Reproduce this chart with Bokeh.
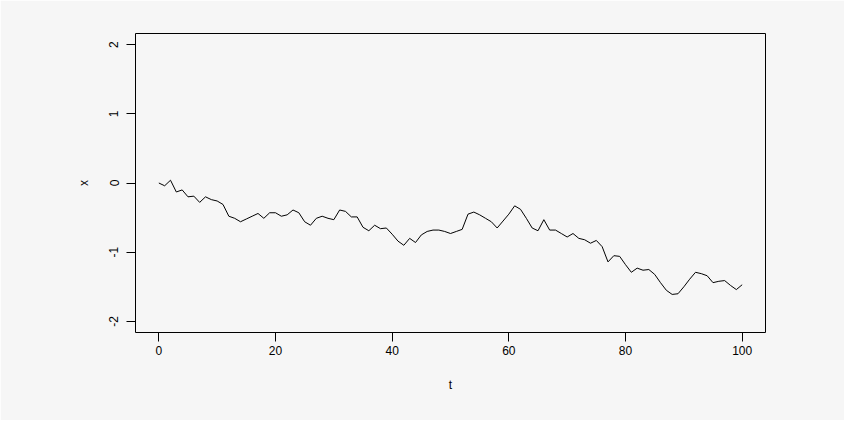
from bokeh.plotting import figure
from bokeh.models import Range1d, FixedTicker
from bokeh.embed import file_html
from bokeh.resources import INLINE

t = list(range(0, 101))
x = [0.00, -0.04, 0.04, -0.13, -0.10, -0.20, -0.19, -0.28, -0.20, -0.24,
     -0.26, -0.31, -0.48, -0.51, -0.56, -0.52, -0.48, -0.44, -0.51, -0.43,
     -0.43, -0.48, -0.46, -0.39, -0.43, -0.56, -0.61, -0.51, -0.48, -0.51,
     -0.53, -0.39, -0.41, -0.49, -0.49, -0.64, -0.69, -0.61, -0.66, -0.65,
     -0.74, -0.84, -0.90, -0.80, -0.86, -0.75, -0.70, -0.68, -0.68, -0.70,
     -0.73, -0.70, -0.67, -0.45, -0.42, -0.46, -0.51, -0.56, -0.65, -0.55,
     -0.45, -0.33, -0.38, -0.51, -0.65, -0.69, -0.53, -0.68, -0.68, -0.73,
     -0.78, -0.73, -0.80, -0.82, -0.87, -0.83, -0.92, -1.14, -1.05, -1.06,
     -1.18, -1.29, -1.23, -1.26, -1.25, -1.32, -1.44, -1.55, -1.61, -1.60,
     -1.50, -1.39, -1.29, -1.31, -1.34, -1.44, -1.42, -1.41, -1.48, -1.54,
     -1.47]
x_ticks = [0, 20, 40, 60, 80, 100]
y_ticks = [-2, -1, 0, 1, 2]

BG = "#F6F6F6"
FONT = "Liberation Sans"

p = figure(width=844, height=420, output_backend="svg", toolbar_location=None,
           x_range=Range1d(-4, 104), y_range=Range1d(-2.16, 2.16),
           min_border_left=135, min_border_right=79,
           min_border_top=33, min_border_bottom=88)
p.background_fill_color = BG
p.border_fill_color = BG
p.outline_line_color = "black"
p.outline_line_width = 1
p.xgrid.visible = False
p.ygrid.visible = False

p.line(t, x, line_color="black", line_width=1)

p.xaxis.ticker = FixedTicker(ticks=x_ticks)
p.yaxis.ticker = FixedTicker(ticks=y_ticks)
p.yaxis.major_label_overrides = {v: str(v) for v in y_ticks}
p.xaxis.axis_label = "t"
p.yaxis.axis_label = "x"
for ax in (p.xaxis[0], p.yaxis[0]):
    ax.axis_line_color = None
    ax.major_tick_in = 0
    ax.major_tick_out = 9
    ax.major_tick_line_color = "black"
    ax.minor_tick_line_color = None
    ax.major_label_text_font = FONT
    ax.major_label_text_font_size = "12px"
    ax.major_label_text_color = "black"
    ax.axis_label_text_font = FONT
    ax.axis_label_text_font_size = "12px"
    ax.axis_label_text_font_style = "normal"
    ax.axis_label_text_color = "black"
p.xaxis.major_label_standoff = 4
p.xaxis.axis_label_standoff = 20
p.yaxis.major_label_orientation = "parallel"
p.yaxis.major_label_standoff = 8
p.yaxis.axis_label_standoff = 16

open("out.html", "w").write(file_html(p, INLINE))
